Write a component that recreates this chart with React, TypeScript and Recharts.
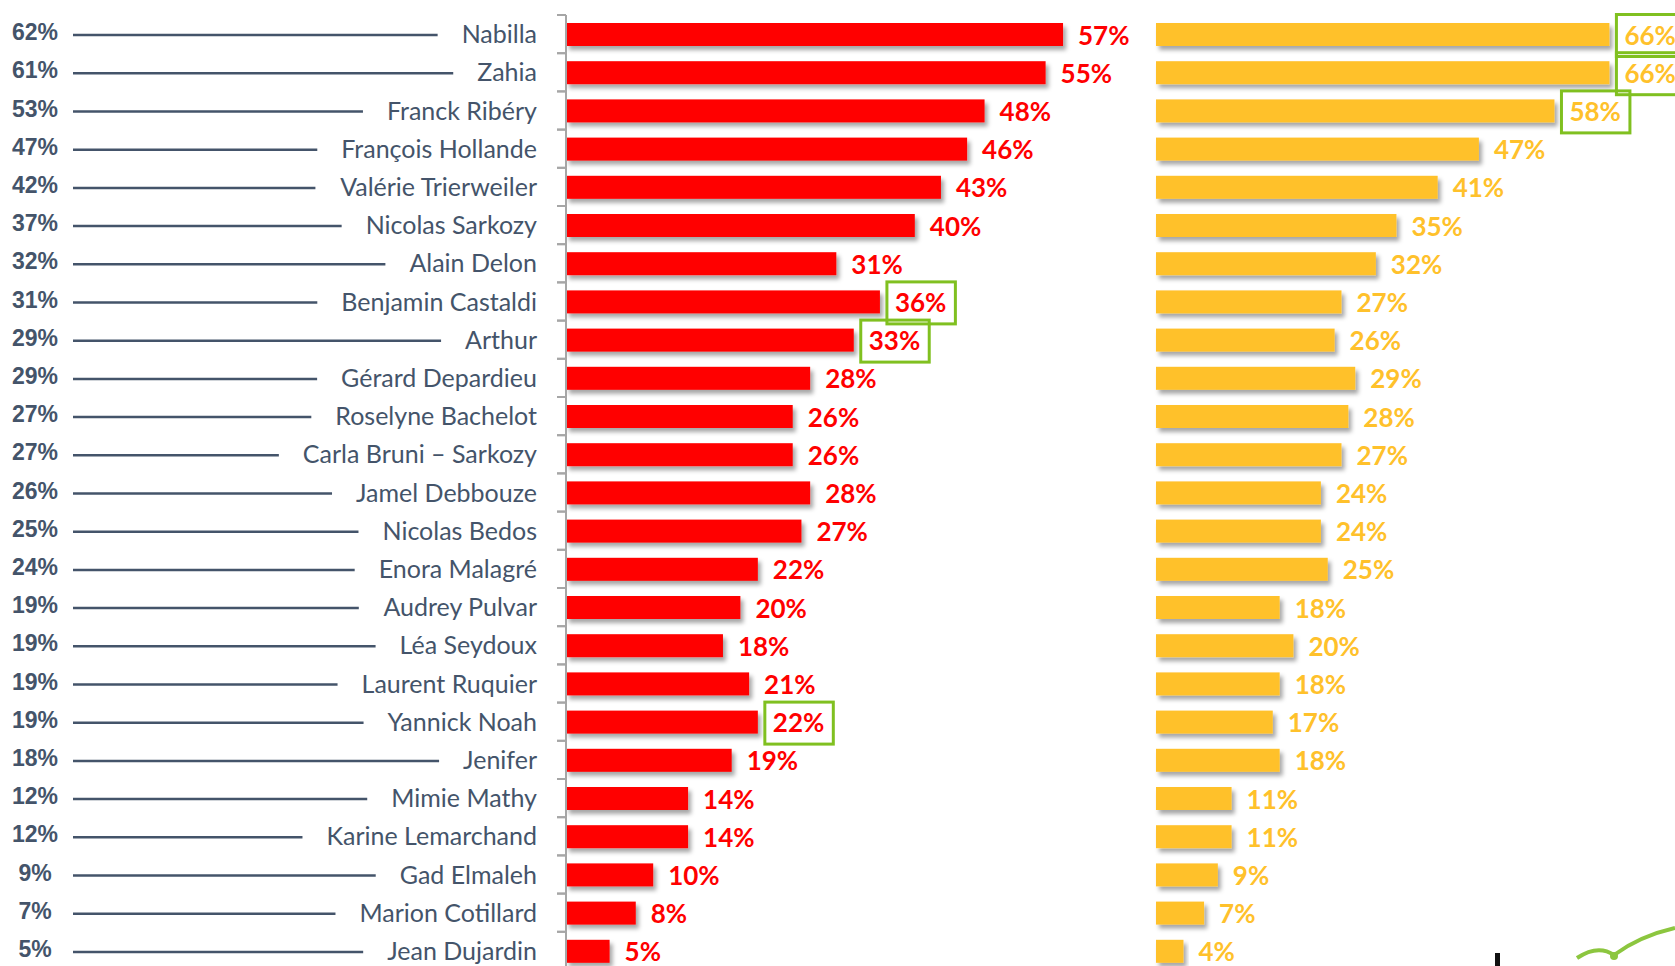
import { BarChart, Bar, XAxis, YAxis, LabelList } from "recharts";

const names = [
  "Nabilla",
  "Zahia",
  "Franck Ribéry",
  "François Hollande",
  "Valérie Trierweiler",
  "Nicolas Sarkozy",
  "Alain Delon",
  "Benjamin Castaldi",
  "Arthur",
  "Gérard Depardieu",
  "Roselyne Bachelot",
  "Carla Bruni – Sarkozy",
  "Jamel Debbouze",
  "Nicolas Bedos",
  "Enora Malagré",
  "Audrey Pulvar",
  "Léa Seydoux",
  "Laurent Ruquier",
  "Yannick Noah",
  "Jenifer",
  "Mimie Mathy",
  "Karine Lemarchand",
  "Gad Elmaleh",
  "Marion Cotillard",
  "Jean Dujardin",
];

const leftPct = [62, 61, 53, 47, 42, 37, 32, 31, 29, 29, 27, 27, 26, 25, 24, 19, 19, 19, 19, 18, 12, 12, 9, 7, 5];
const redPct = [57, 55, 48, 46, 43, 40, 31, 36, 33, 28, 26, 26, 28, 27, 22, 20, 18, 21, 22, 19, 14, 14, 10, 8, 5];
const yellowPct = [66, 66, 58, 47, 41, 35, 32, 27, 26, 29, 28, 27, 24, 24, 25, 18, 20, 18, 17, 18, 11, 11, 9, 7, 4];

const redBoxed = ["Benjamin Castaldi", "Arthur", "Yannick Noah"];
const yellowBoxed = ["Nabilla", "Zahia", "Franck Ribéry"];

const data = names.map((name, i) => ({
  name,
  left: leftPct[i],
  red: redPct[i],
  yellow: yellowPct[i],
}));

const RED = "#ff0000";
const YELLOW = "#ffc12b";
const SLATE = "#44546a";
const GREEN = "#80c020";

const H = 966;
const CH = 970; // chart is a bit taller than the page; last row is cut like in the source
const TOP = 15;
const BAND = (CH - TOP) / names.length;
const AXIS_X = 566;
const LEFT_W = 1150;
const RIGHT_W = 525;
const RED_PX = 8.72;
const YEL_PX = 6.87;

const nameFont = "25px Lato";
const labelFont = "bold 26px Lato";

let ctx: CanvasRenderingContext2D | null = null;
const measure = (text: string, font: string) => {
  if (!ctx) ctx = document.createElement("canvas").getContext("2d");
  if (!ctx) return text.length * 11;
  ctx.font = font;
  return ctx.measureText(text).width;
};

const NameTick = (props: any) => {
  const { y, payload, index } = props;
  const name = payload.value as string;
  const nameEnd = 537;
  const w = measure(name, nameFont);
  return (
    <g>
      <text
        x={35}
        y={y + 6}
        textAnchor="middle"
        fontFamily="'Liberation Sans', Arial, sans-serif"
        fontWeight="bold"
        fontSize={23}
        fill={SLATE}
      >
        {leftPct[index]}%
      </text>
      <line x1={73} x2={nameEnd - w - 24} y1={y + 1} y2={y + 1} stroke={SLATE} strokeWidth={2.5} />
      <text x={nameEnd} y={y + 9} textAnchor="end" fontFamily="Lato" fontSize={25} fill={SLATE}>
        {name}
      </text>
      <line x1={AXIS_X - 9} x2={AXIS_X} y1={y - BAND / 2} y2={y - BAND / 2} stroke="#a6a6a6" strokeWidth={2} />
      <line x1={AXIS_X - 9} x2={AXIS_X} y1={y + BAND / 2} y2={y + BAND / 2} stroke="#a6a6a6" strokeWidth={2} />
    </g>
  );
};

const makeLabel = (color: string, boxed: string[]) => (props: any) => {
  const { x, y, width, height, value, index } = props;
  const text = `${value}%`;
  const tx = x + width + 15;
  const cy = y + height / 2;
  const tw = measure(text, labelFont);
  return (
    <g>
      {boxed.includes(names[index]) && (
        <rect
          x={x + width + 7}
          y={cy - 20}
          width={tw + 17}
          height={42}
          fill="none"
          stroke={GREEN}
          strokeWidth={3}
        />
      )}
      <text x={tx} y={cy + 10} fontFamily="Lato" fontWeight="bold" fontSize={26} fill={color}>
        {text}
      </text>
    </g>
  );
};

const ShadowBar = (props: any) => {
  const { x, y, width, height, fill } = props;
  return <rect x={x} y={y} width={width} height={height} fill={fill} filter="url(#barShadow)" />;
};

const Shadow = () => (
  <defs>
    <filter id="barShadow" x="-10%" y="-50%" width="130%" height="220%">
      <feDropShadow dx={3} dy={4} stdDeviation={2.2} floodColor="#000" floodOpacity={0.35} />
    </filter>
  </defs>
);

export default function App() {
  return (
    <div style={{ position: "absolute", left: 0, top: 0, width: 1675, height: H, background: "#fff", overflow: "hidden" }}>
      <div style={{ position: "absolute", left: 0, top: 0 }}>
        <BarChart
          width={LEFT_W}
          height={CH}
          data={data}
          layout="vertical"
          margin={{ top: TOP, right: 0, bottom: 0, left: 0 }}
        >
          <Shadow />
          <XAxis type="number" hide domain={[0, (LEFT_W - AXIS_X) / RED_PX]} />
          <YAxis
            type="category"
            dataKey="name"
            width={AXIS_X}
            axisLine={{ stroke: "#a6a6a6", strokeWidth: 2 }}
            tickLine={false}
            tick={<NameTick />}
            interval={0}
          />
          <Bar dataKey="red" fill={RED} barSize={23} shape={<ShadowBar />} isAnimationActive={false}>
            <LabelList dataKey="red" content={makeLabel(RED, redBoxed)} />
          </Bar>
        </BarChart>
      </div>
      <div style={{ position: "absolute", left: LEFT_W, top: 0 }}>
        <BarChart
          width={RIGHT_W}
          height={CH}
          data={data}
          layout="vertical"
          margin={{ top: TOP, right: 0, bottom: 0, left: 6 }}
        >
          <Shadow />
          <XAxis type="number" hide domain={[0, (RIGHT_W - 6) / YEL_PX]} />
          <YAxis type="category" dataKey="name" hide width={0} />
          <Bar dataKey="yellow" fill={YELLOW} barSize={23} shape={<ShadowBar />} isAnimationActive={false}>
            <LabelList dataKey="yellow" content={makeLabel(YELLOW, yellowBoxed)} />
          </Bar>
        </BarChart>
      </div>
      <svg style={{ position: "absolute", left: 0, top: 0 }} width={1675} height={H}>
        <rect x={1495} y={953} width={5} height={13} fill="#111" />
        <path d="M1577,958 Q1598,944 1614,955 Q1640,936 1675,928" fill="none" stroke="#8cc63f" strokeWidth={4} />
        <circle cx={1614} cy={956} r={4} fill="#8cc63f" />
      </svg>
    </div>
  );
}
